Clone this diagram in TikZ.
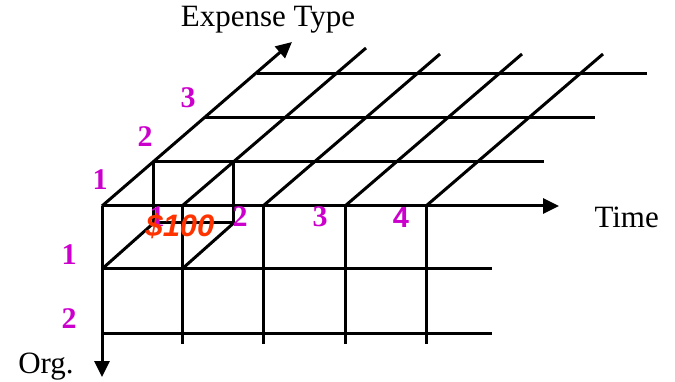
\documentclass[tikz,border=0pt]{standalone}
\usepackage{fontspec}
\setmainfont{Liberation Serif}
\newfontfamily\arialfont{Liberation Sans}
\usetikzlibrary{arrows.meta}
\definecolor{dimnum}{RGB}{204,0,204}
\definecolor{cellval}{RGB}{255,51,0}
\begin{document}
\begin{tikzpicture}[x=1pt, y=-1pt, line width=3pt, >={Triangle[length=16pt,width=15pt]},
    num/.style={text=dimnum, inner sep=0pt, anchor=base, font=\fontsize{30}{30}\selectfont\bfseries},
    axlabel/.style={inner sep=0pt, anchor=base, font=\fontsize{31}{31}\selectfont}]
  \useasboundingbox (0,0) rectangle (675,382);
  % axes
  \coordinate (O) at (102,206);
  \draw[->] (O) -- (559,206) coordinate (timeend);
  \draw[->] (O) -- (102,377) coordinate (orgend);
  \draw[->] (O) -- (292,42) coordinate (expend);
  % front face
  \foreach \y in {269,333} \draw (102,\y) -- (492,\y);
  \foreach \x in {182,263,345,426} \draw (\x,206) -- (\x,344);
  % back rows
  \foreach \k in {1,2,3} \draw ({102+51.7*\k},{206-44.3*\k}) -- ({492+51.7*\k},{206-44.3*\k});
  % depth lines
  \draw (182,206) -- (366,48);
  \foreach \x in {263,345,426} \draw (\x,206) -- ({\x+177},54);
  % the $100 cell
  \draw (153.7,161.7) -- (153.7,223) -- (233.7,223) -- (233.7,161.7);
  \draw (102,269) -- (153.7,223);
  \draw (182,269) -- (233.7,223);
  % labels
  \node[axlabel] (exptype) at (268,27) {Expense Type};
  \node[axlabel, anchor=base west] (time) at (593,228) {Time};
  \node[axlabel] (org) at (46,373) {Org.};
  \node[num] (e1) at (100,190) {1};
  \node[num] (e2) at (145,147) {2};
  \node[num] (e3) at (188,108) {3};
  \node[num] (o1) at (69,265) {1};
  \node[num] (o2) at (69,328) {2};
  \node[num] (t1) at (157,227) {1};
  \node[num] (t2) at (240,227) {2};
  \node[num] (t3) at (320,227) {3};
  \node[num, font=\arialfont\fontsize{29}{29}\selectfont\bfseries] (t4) at (401,228) {4};
  \node[inner sep=0pt, anchor=base, text=cellval, font=\arialfont\fontsize{31}{31}\selectfont\bfseries\itshape] (cell) at (180,237) {\$100};
\end{tikzpicture}
\end{document}
